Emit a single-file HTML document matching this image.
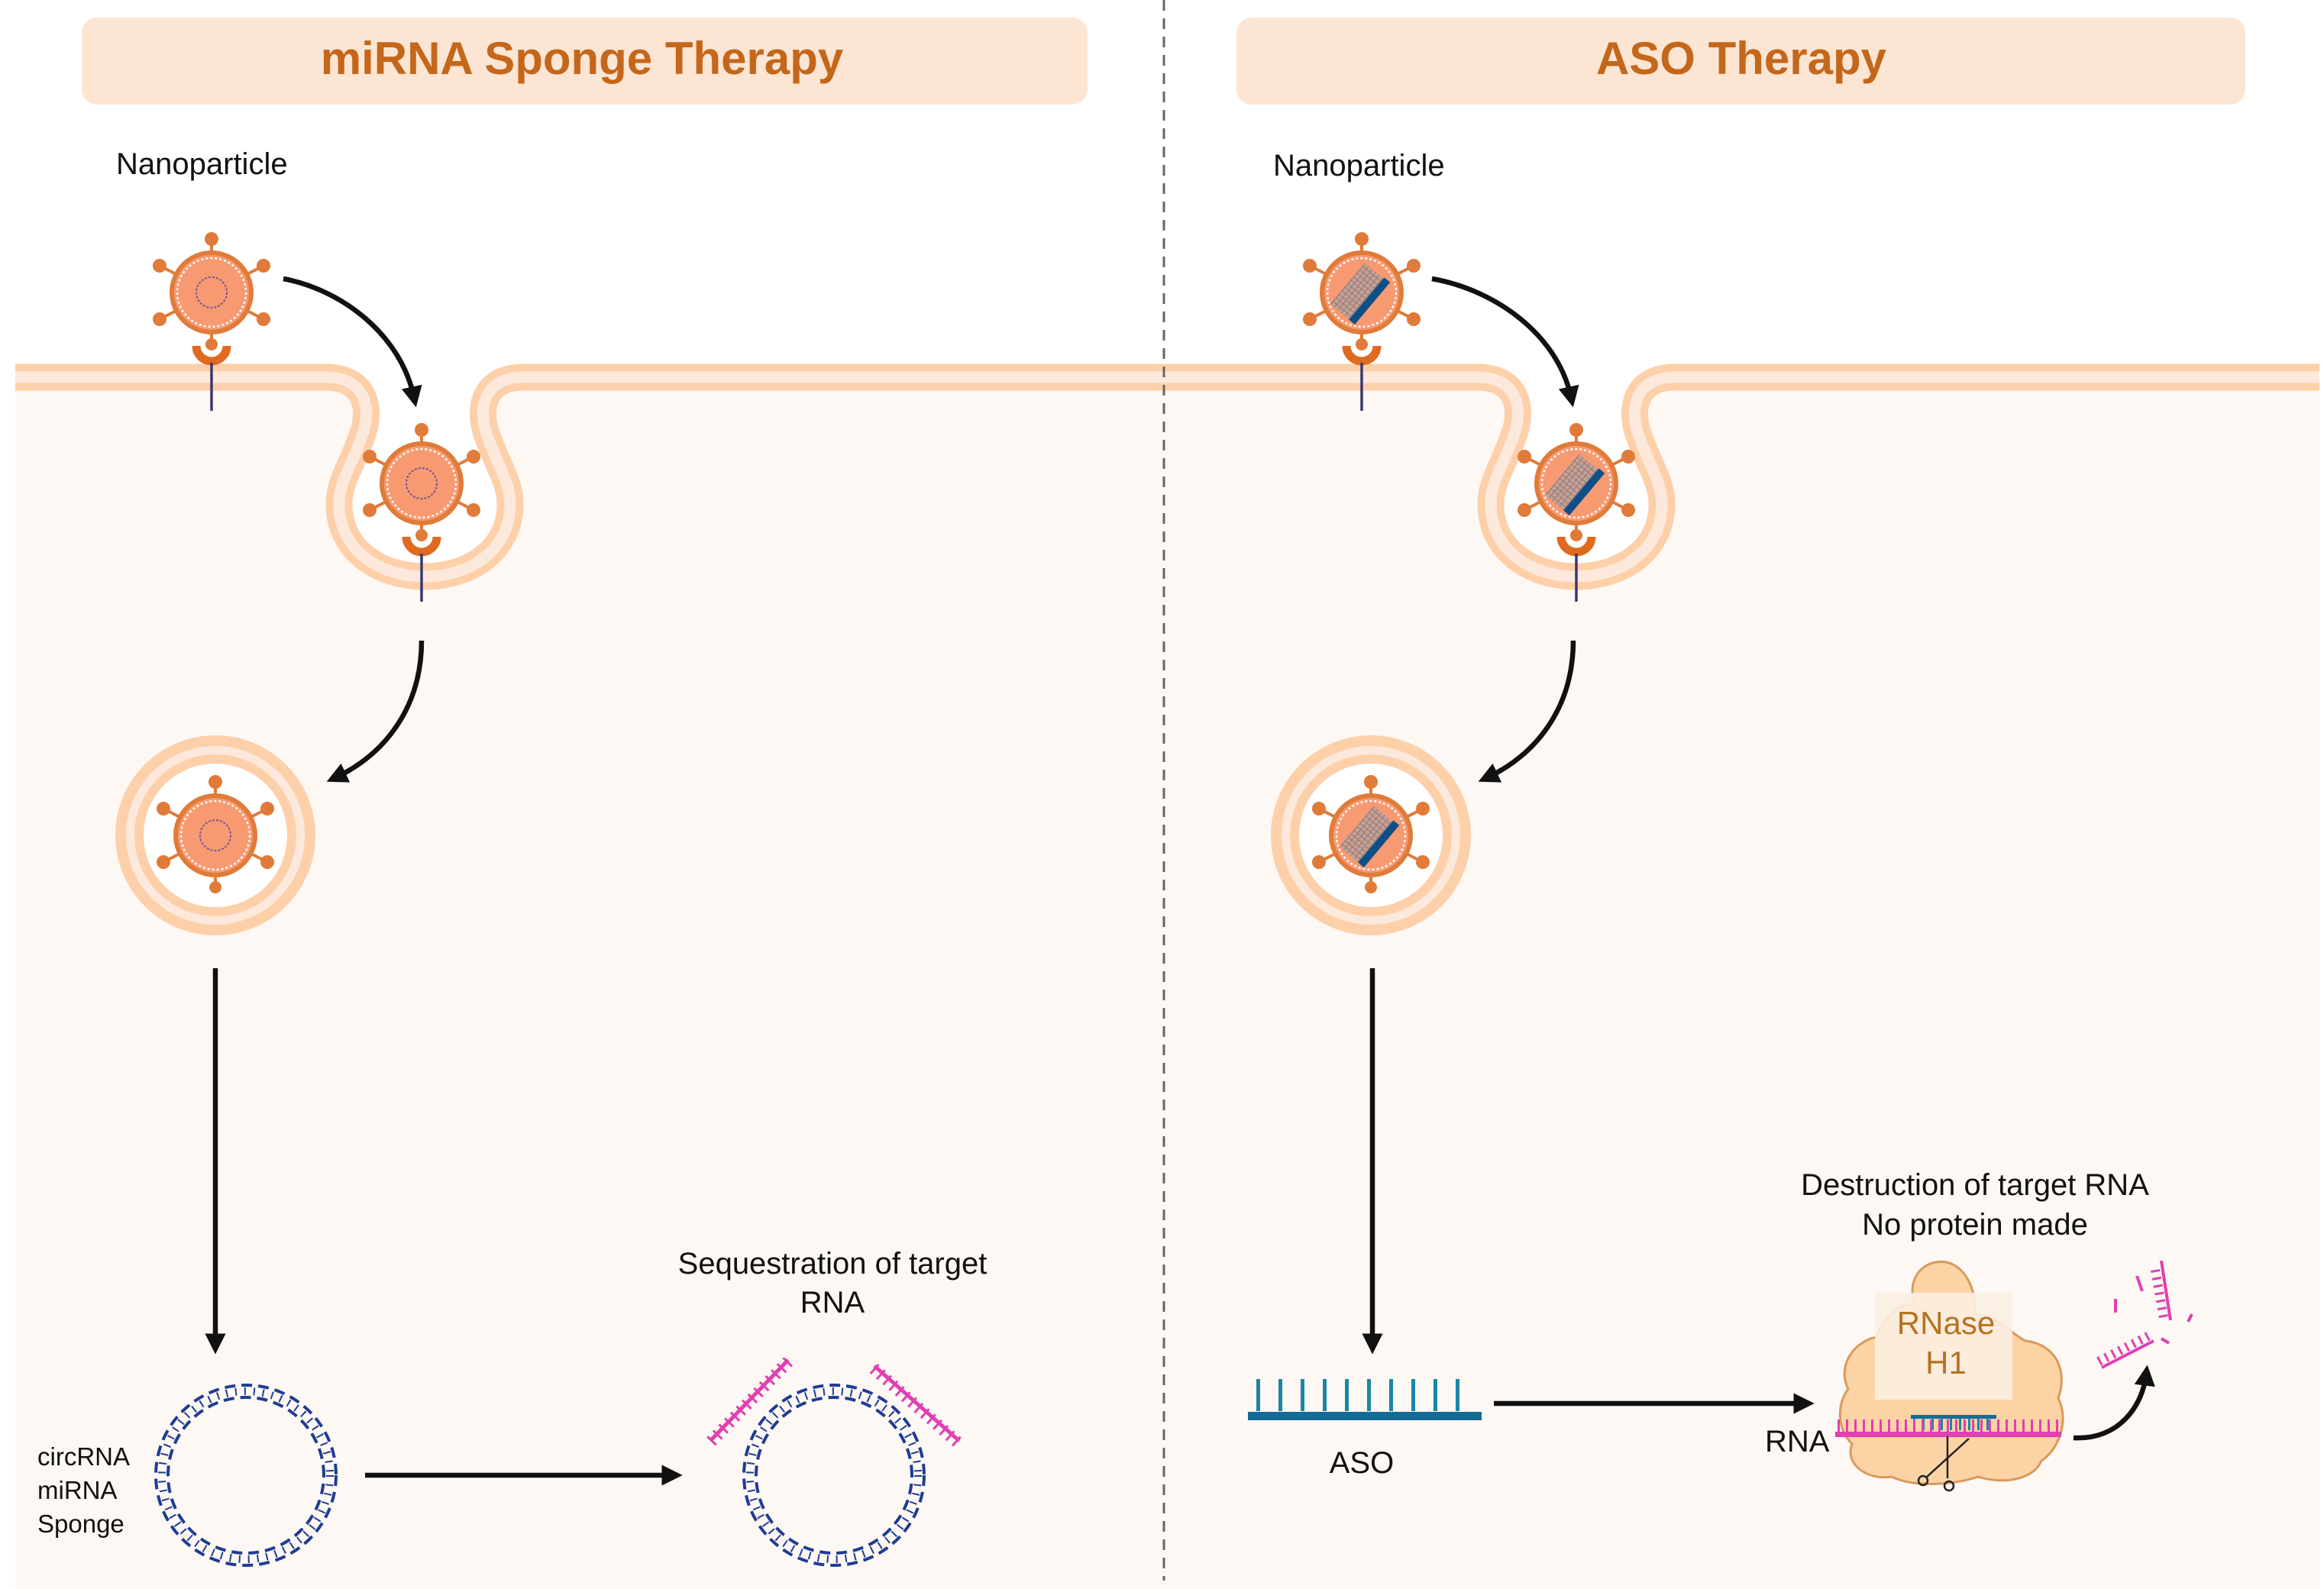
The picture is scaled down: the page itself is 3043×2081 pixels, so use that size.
<!DOCTYPE html>
<html><head><meta charset="utf-8"><style>
html,body{margin:0;padding:0;background:#fff;}
svg{display:block;}
text{font-family:"Liberation Sans",Arial,sans-serif;}
</style></head><body>
<svg width="3043" height="2081" viewBox="0 0 3043 2081" xmlns="http://www.w3.org/2000/svg">
<defs>
<marker id="ah" viewBox="0 0 10 10" refX="5" refY="5" markerWidth="4.2" markerHeight="4.2" orient="auto" markerUnits="strokeWidth">
<path d="M0,0 L10,5 L0,10 Z" fill="#111"/></marker>
<pattern id="hatch" width="6" height="6" patternUnits="userSpaceOnUse">
<rect width="6" height="6" fill="#c9a090"/><path d="M0,3H6M3,0V6" stroke="#8a7a80" stroke-width="1"/></pattern>
<g id="npbase">
<g stroke="#e07b39" stroke-width="4" fill="#e07b39">
<line x1="0" y1="0" x2="0" y2="-70"/><circle cx="0" cy="-70" r="7"/>
<line x1="0" y1="0" x2="-68" y2="-35"/><circle cx="-68" cy="-35" r="7"/>
<line x1="0" y1="0" x2="68" y2="-35"/><circle cx="68" cy="-35" r="7"/>
<line x1="0" y1="0" x2="-68" y2="35"/><circle cx="-68" cy="35" r="7"/>
<line x1="0" y1="0" x2="68" y2="35"/><circle cx="68" cy="35" r="7"/>
<line x1="0" y1="0" x2="0" y2="68"/><circle cx="0" cy="68" r="6"/>
</g>
<circle r="52" fill="#f79a72" stroke="#e07b39" stroke-width="6"/>
<circle r="45" fill="none" stroke="#fff" stroke-width="2.5" stroke-dasharray="3 3"/>
</g>
<g id="npL"><use href="#npbase"/><circle r="20" fill="none" stroke="#7a5590" stroke-width="2" stroke-dasharray="3 2"/></g>
<g id="npR"><use href="#npbase"/>
<g transform="rotate(-50)"><rect x="-38" y="-22" width="70" height="38" fill="url(#hatch)"/><rect x="-38" y="10" width="72" height="10" fill="#0d4f86"/></g></g>
<g id="rec"><path d="M-20,70 A20,20 0 0 0 20,70" fill="none" stroke="#e06a20" stroke-width="11"/><line x1="0" y1="92" x2="0" y2="155" stroke="#3a3870" stroke-width="3.5"/></g>
<g id="ves"><circle r="124" fill="#fde9dc" stroke="#fdd0aa" stroke-width="14"/><circle r="100" fill="#fff" stroke="#fdd0aa" stroke-width="12"/></g>
<g id="circ">
<circle r="110" fill="none" stroke="#1f3c94" stroke-width="10" stroke-dasharray="2 10"/>
<circle r="118" fill="none" stroke="#1f3c94" stroke-width="4" stroke-dasharray="14 8"/>
<circle r="102" fill="none" stroke="#1f3c94" stroke-width="4" stroke-dasharray="14 8" stroke-dashoffset="11"/>
</g>
<path id="memp" d="M20 494 H426 C476 494 486 530 476 565 C461 610 444 630 444 660 C444 720 496 755 556 755 C616 755 668 720 668 660 C668 630 651 610 636 565 C626 530 636 494 686 494 H1934 C1984 494 1994 530 1984 565 C1969 610 1952 630 1952 660 C1952 720 2004 755 2064 755 C2124 755 2176 720 2176 660 C2176 630 2159 610 2144 565 C2134 530 2144 494 2194 494 H3037"/>
</defs>

<!-- cell interior -->
<rect x="20" y="494" width="3017" height="1587" fill="#fdf8f4"/>
<path d="M20 494 H426 C476 494 486 530 476 565 C461 610 444 630 444 660 C444 720 496 755 556 755 C616 755 668 720 668 660 C668 630 651 610 636 565 C626 530 636 494 686 494 H1934 C1984 494 1994 530 1984 565 C1969 610 1952 630 1952 660 C1952 720 2004 755 2064 755 C2124 755 2176 720 2176 660 C2176 630 2159 610 2144 565 C2134 530 2144 494 2194 494 H3037 V0 H20 Z" fill="#fff"/>
<use href="#memp" fill="none" stroke="#fdd0aa" stroke-width="35"/>
<use href="#memp" fill="none" stroke="#fde9dc" stroke-width="15"/>

<!-- divider -->
<line x1="1524" y1="0" x2="1524" y2="2070" stroke="#666" stroke-width="3" stroke-dasharray="14 10"/>

<!-- headers -->
<rect x="107" y="23" width="1317" height="114" rx="20" fill="#fde5d3"/>
<rect x="1619" y="23" width="1321" height="114" rx="20" fill="#fde5d3"/>
<text x="762" y="97" font-size="60" font-weight="bold" fill="#c4671b" text-anchor="middle">miRNA Sponge Therapy</text>
<text x="2280" y="97" font-size="60" font-weight="bold" fill="#c4671b" text-anchor="middle">ASO Therapy</text>
<text x="152" y="228" font-size="40" fill="#111">Nanoparticle</text>
<text x="1667" y="230" font-size="40" fill="#111">Nanoparticle</text>

<!-- left panel particles -->
<use href="#rec" x="277" y="383"/><use href="#npL" x="277" y="383"/>
<use href="#rec" x="552" y="633"/><use href="#npL" x="552" y="633"/>
<use href="#ves" x="282" y="1094"/><use href="#npL" x="282" y="1094"/>
<!-- right panel particles -->
<use href="#rec" x="1783" y="383"/><use href="#npR" x="1783" y="383"/>
<use href="#rec" x="2064" y="633"/><use href="#npR" x="2064" y="633"/>
<use href="#ves" x="1795" y="1094"/><use href="#npR" x="1795" y="1094"/>

<!-- arrows -->
<g fill="none" stroke="#111" stroke-width="6.5" marker-end="url(#ah)">
<path d="M371 365 C450 380 525 440 542 520"/>
<path d="M1875 365 C1960 380 2040 440 2057 520"/>
<path d="M552 839 C552 930 500 990 440 1018"/>
<path d="M2060 839 C2060 930 2008 990 1948 1018"/>
<path d="M282 1268 V1760"/>
<path d="M1797 1268 V1760"/>
</g>

<g transform="translate(0,-9)">
<g fill="none" stroke="#111" stroke-width="6.5" marker-end="url(#ah)">
<path d="M478 1941 H880"/>
</g>
<!-- circRNA -->
<use href="#circ" x="322" y="1941"/>
<text x="49" y="1928" font-size="33" fill="#111">circRNA</text>
<text x="49" y="1972" font-size="33" fill="#111">miRNA</text>
<text x="49" y="2016" font-size="33" fill="#111">Sponge</text>
<use href="#circ" x="1092" y="1941"/>
<g stroke="#e040b0" transform="translate(-2,0)">
<line x1="932" y1="1896" x2="1034" y2="1790" stroke-width="5"/>
<line x1="925" y1="1889" x2="1027" y2="1783" stroke-width="16" stroke-dasharray="3 8" transform="translate(8,8)"/>
<line x1="1147" y1="1798" x2="1258" y2="1896" stroke-width="5"/>
<line x1="1142" y1="1805" x2="1253" y2="1903" stroke-width="16" stroke-dasharray="3 8" transform="translate(4,-4)"/>
</g>
<text x="1090" y="1677" font-size="40" fill="#111" text-anchor="middle">Sequestration of target</text>
<text x="1090" y="1728" font-size="40" fill="#111" text-anchor="middle">RNA</text>

<g transform="translate(-10,0)">
<g fill="none" stroke="#111" stroke-width="6.5" marker-end="url(#ah)">
<path d="M1966 1847 H2372"/>
<path d="M2725 1892 C2785 1895 2815 1850 2820 1810"/>
</g>
<!-- ASO -->
<rect x="1644" y="1858" width="306" height="11" fill="#136b96"/>
<line x1="1655" y1="1836" x2="1945" y2="1836" stroke="#1a86a6" stroke-width="42" stroke-dasharray="5 24"/>
<text x="1793" y="1938" font-size="40" fill="#111" text-anchor="middle">ASO</text>

<!-- RNase -->
<path d="M2545 1662 C2578 1656 2600 1695 2595 1730 C2630 1735 2642 1755 2662 1765 C2705 1770 2717 1808 2705 1840 C2720 1870 2705 1908 2683 1922 C2672 1948 2632 1953 2600 1943 C2570 1953 2518 1958 2487 1943 C2455 1948 2425 1927 2435 1900 C2415 1880 2415 1848 2430 1828 C2415 1798 2437 1766 2467 1760 C2477 1735 2497 1715 2517 1717 C2507 1685 2525 1665 2545 1662 Z" fill="#fcd3a5" stroke="#d89a5a" stroke-width="3"/>
<rect x="2465" y="1702" width="180" height="140" fill="#fbeee2" opacity="0.9"/>
<text x="2558" y="1756" font-size="42" fill="#b5731f" text-anchor="middle">RNase</text>
<text x="2558" y="1808" font-size="42" fill="#b5731f" text-anchor="middle">H1</text>
<rect x="2512" y="1862" width="112" height="5" fill="#136b96"/>
<line x1="2515" y1="1874" x2="2622" y2="1874" stroke="#1a86a6" stroke-width="16" stroke-dasharray="3 9"/>
<rect x="2413" y="1884" width="296" height="7" fill="#e040b0"/>
<line x1="2416" y1="1876" x2="2709" y2="1876" stroke="#e040b0" stroke-width="16" stroke-dasharray="3 8"/>
<g stroke="#222" stroke-width="2.5" fill="none">
<line x1="2532" y1="1944" x2="2588" y2="1893"/><line x1="2560" y1="1890" x2="2560" y2="1945"/>
<circle cx="2528" cy="1948" r="6"/><circle cx="2562" cy="1955" r="6"/></g>
<text x="2321" y="1910" font-size="40" fill="#111">RNA</text>
<text x="2596" y="1574" font-size="40" fill="#111" text-anchor="middle">Destruction of target RNA</text>
<text x="2596" y="1626" font-size="40" fill="#111" text-anchor="middle">No protein made</text>

<!-- fragments -->
<g stroke="#e040b0" stroke-width="4">
<line x1="2840" y1="1660" x2="2852" y2="1738"/>
<line x1="2832" y1="1672" x2="2844" y2="1740" stroke-width="12" stroke-dasharray="3 7"/>
<line x1="2762" y1="1800" x2="2830" y2="1765"/>
<line x1="2758" y1="1792" x2="2826" y2="1757" stroke-width="12" stroke-dasharray="3 7"/>
<line x1="2780" y1="1710" x2="2780" y2="1728"/><line x1="2808" y1="1680" x2="2815" y2="1700"/>
<line x1="2880" y1="1730" x2="2875" y2="1740"/><line x1="2840" y1="1762" x2="2850" y2="1768"/>
</g>
</g>
</g>
</svg>
</body></html>
